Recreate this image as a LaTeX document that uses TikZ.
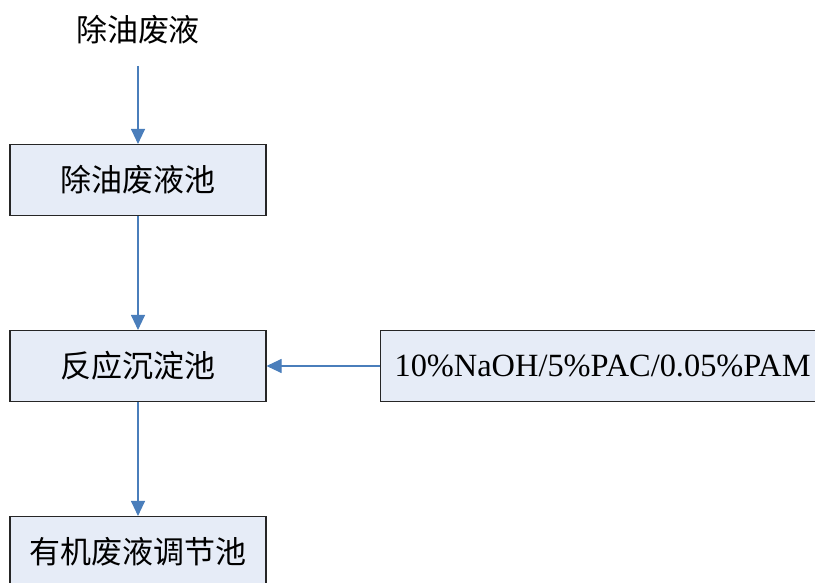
\documentclass[tikz,border=0pt]{standalone}
\usepackage{fontspec}
\setmainfont{Liberation Serif}
\newfontfamily\cjk{Noto Sans CJK SC}
\usetikzlibrary{arrows.meta}
\definecolor{boxfill}{HTML}{E6ECF7}
\definecolor{flowblue}{HTML}{4A7EBB}
\begin{document}
\begin{tikzpicture}[x=1pt,y=-1pt,
  tank/.style={draw=black!85,line width=1.1pt,fill=boxfill,minimum width=256pt,minimum height=71pt,inner sep=0pt,font=\cjk\fontsize{31}{36}\selectfont},
  dosing/.style={draw=black!85,line width=1.1pt,fill=boxfill,minimum height=71pt,inner xsep=14pt,inner ysep=0pt,text width=430pt,align=left,font=\fontsize{32.4}{38}\selectfont},
  flow/.style={draw=flowblue,line width=1.1pt,-{Triangle[length=15pt,width=14pt]}}]
  \useasboundingbox (0,0) rectangle (815,583);
  \clip (0,0) rectangle (815,583);
  \node[font=\cjk\fontsize{31}{36}\selectfont] (src) at (138,30) {除油废液};
  \coordinate (srcend) at (138,66);
  \node[tank] (pool) at (138,180) {除油废液池};
  \node[tank] (react) at (138,366) {反应沉淀池};
  \node[tank] (adjust) at (138,552) {有机废液调节池};
  \node[dosing,anchor=west] (chem) at (380,366) {10\%NaOH/5\%PAC/0.05\%PAM};
  \draw[flow] (srcend) -- (pool.north);
  \draw[flow] (pool) -- (react);
  \draw[flow] (react) -- (adjust);
  \draw[flow] (chem) -- (react);
\end{tikzpicture}
\end{document}
